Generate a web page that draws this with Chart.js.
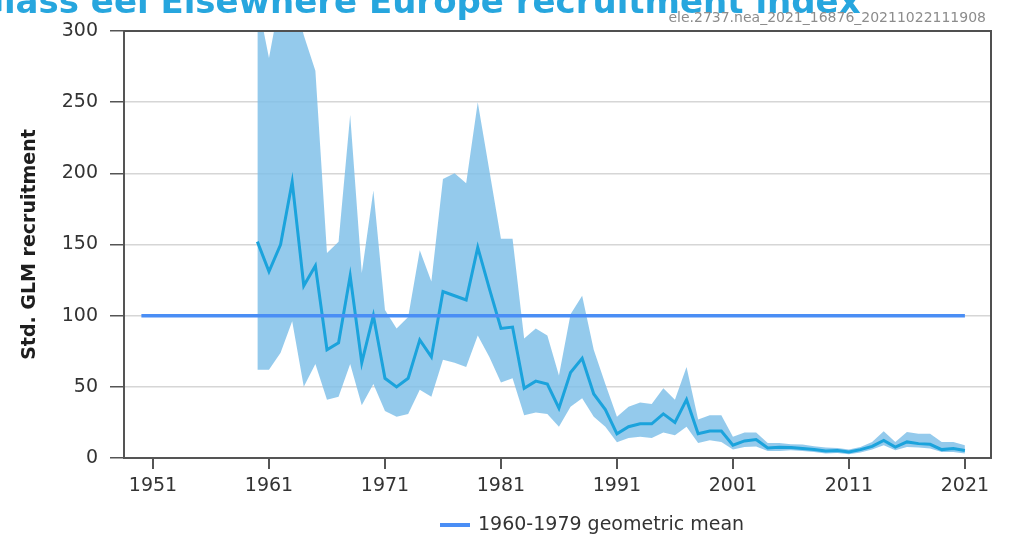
<!DOCTYPE html>
<html>
<head>
<meta charset="utf-8">
<script src="https://cdn.jsdelivr.net/npm/chart.js@4.4.1/dist/chart.umd.min.js"></script>
<style>
    body { margin: 0; background: #fff; }
    #wrap { position: relative; width: 1011px; height: 539px; overflow: hidden; }
    #title { position: absolute; left: -24px; top: -16px; font: bold 34px "DejaVu Sans"; line-height: 34px; color: #27a6de; white-space: nowrap; }
    #source { position: absolute; right: 25px; top: 8px; font: 14px "DejaVu Sans"; line-height: 18px; color: #8c8c8c; white-space: nowrap; }
    #legend { position: absolute; left: 440px; top: 511px; font: 19px "DejaVu Sans"; line-height: 24px; color: #333; white-space: nowrap; }
    #legend span.swatch { display: inline-block; width: 30px; height: 4px; background: #4a8ef5; vertical-align: middle; margin-right: 8px; }
</style>
</head>
<body>
<div id="wrap">
    <canvas id="chart" width="1011" height="539"></canvas>
    <div id="title">Glass eel Elsewhere Europe recruitment index</div>
    <div id="source">ele.2737.nea_2021_16876_20211022111908</div>
    <div id="legend"><span class="swatch"></span>1960-1979 geometric mean</div>
</div>
<script>
const years = [1960, 1961, 1962, 1963, 1964, 1965, 1966, 1967, 1968, 1969,
    1970, 1971, 1972, 1973, 1974, 1975, 1976, 1977, 1978, 1979,
    1980, 1981, 1982, 1983, 1984, 1985, 1986, 1987, 1988, 1989,
    1990, 1991, 1992, 1993, 1994, 1995, 1996, 1997, 1998, 1999,
    2000, 2001, 2002, 2003, 2004, 2005, 2006, 2007, 2008, 2009,
    2010, 2011, 2012, 2013, 2014, 2015, 2016, 2017, 2018, 2019,
    2020, 2021]

const recruitment = [152, 131, 150, 194, 121, 135, 76, 81, 128, 67,
    100, 56, 50, 56, 83, 71, 117, 114, 111, 148,
    119, 91, 92, 49, 54, 52, 35, 60, 70, 45,
    34, 17, 22, 24, 24, 31, 25, 41, 17, 19,
    19, 9, 12, 13, 7, 7.5, 7.3, 6.6, 6, 4.9,
    5.2, 4.2, 5.9, 8.2, 12.4, 7.7, 11.3, 10.1, 9.6, 5.9,
    6.6, 5.2]

const upper = [322, 281, 325, 330, 297, 272, 144, 152, 241, 130,
    188, 104, 91, 99, 146, 124, 196, 200, 193, 250,
    202, 154, 154, 84, 91, 86, 58, 101, 114, 76,
    52, 29, 36, 39, 38, 49, 41, 64, 27, 30,
    30, 15, 18, 18, 10.5, 10.5, 9.6, 9.4, 8.2, 7.3,
    7, 5.9, 7.7, 11.3, 18.8, 11.3, 18.3, 17, 17, 11.3,
    11.3, 9]

const lower = [62, 62, 74, 96, 50, 66, 41, 43, 66, 37,
    52, 33, 29, 31, 48, 43, 69, 67, 64, 86,
    71, 53, 56, 30, 32, 31, 22, 36, 42, 29,
    22, 11, 14, 15, 14, 18, 16, 22, 10.5, 12.4,
    11.3, 5.9, 7.7, 8, 4.9, 5, 5.4, 4.9, 4.2, 3.1,
    3.5, 2.6, 3.8, 5.9, 9, 5.4, 7.7, 7.3, 6.6, 4.2,
    4.2, 3.1]

const meanYears = [1950, 2021]
const meanValue = 100

const tickYears = [1951, 1961, 1971, 1981, 1991, 2001, 2011, 2021]
const yTicks = [0, 50, 100, 150, 200, 250, 300]

const toPoints = values => years.map((x, i) => ({ x, y: values[i] }))

const tickFont = { family: "DejaVu Sans", size: 19 }

// top and right edge of the plot box
const frame = {
    id: "frame",
    afterDatasetsDraw: chart => {
        const { ctx, chartArea: { left, right, top, bottom } } = chart
        ctx.save()
        ctx.strokeStyle = "#505050"
        ctx.lineWidth = 2
        ctx.beginPath()
        ctx.moveTo(left, top)
        ctx.lineTo(right, top)
        ctx.lineTo(right, bottom)
        ctx.stroke()
        ctx.restore()
    }
}

new Chart(document.getElementById("chart"), {
    type: "line",
    data: {
        datasets: [
            {
                label: "upper",
                data: toPoints(upper),
                borderWidth: 0,
                pointRadius: 0,
                backgroundColor: "rgba(125, 190, 232, 0.82)",
                fill: "+1",
                order: 3
            },
            {
                label: "lower",
                data: toPoints(lower),
                borderWidth: 0,
                pointRadius: 0,
                fill: false,
                order: 3
            },
            {
                label: "Std. GLM recruitment",
                data: toPoints(recruitment),
                borderColor: "#1ba3dc",
                borderWidth: 3,
                pointRadius: 0,
                fill: false,
                order: 2
            },
            {
                label: "1960-1979 geometric mean",
                data: meanYears.map(x => ({ x, y: meanValue })),
                borderColor: "#4a8ef5",
                borderWidth: 3.5,
                pointRadius: 0,
                fill: false,
                order: 1
            }
        ]
    },
    options: {
        responsive: false,
        animation: false,
        events: [],
        layout: { padding: { top: 31, right: 20, left: 0, bottom: 0 } },
        plugins: {
            legend: { display: false },
            tooltip: { enabled: false }
        },
        scales: {
            x: {
                type: "linear",
                min: 1948.5,
                max: 2023.25,
                afterFit: scale => { scale.height = 81 },
                afterBuildTicks: scale => { scale.ticks = tickYears.map(value => ({ value })) },
                border: { color: "#555", width: 2 },
                grid: { drawOnChartArea: false, drawTicks: true, tickLength: 11, tickColor: "#555", lineWidth: 2 },
                ticks: { font: tickFont, color: "#333", padding: 6, maxRotation: 0, callback: v => String(v) }
            },
            y: {
                min: 0,
                max: 300,
                afterFit: scale => { scale.width = 124 },
                afterBuildTicks: scale => { scale.ticks = yTicks.map(value => ({ value })) },
                border: { color: "#555", width: 2 },
                grid: { color: "#d6d6d6", lineWidth: 1.5, tickLength: 14, tickColor: "#555" },
                ticks: { font: tickFont, color: "#333", padding: 12 },
                title: {
                    display: true,
                    text: "Std. GLM recruitment",
                    font: { family: "DejaVu Sans", size: 19, weight: "bold" },
                    color: "#1e1e1e",
                    padding: { top: 19, bottom: 0 }
                }
            }
        }
    },
    plugins: [frame]
})
</script>
</body>
</html>
